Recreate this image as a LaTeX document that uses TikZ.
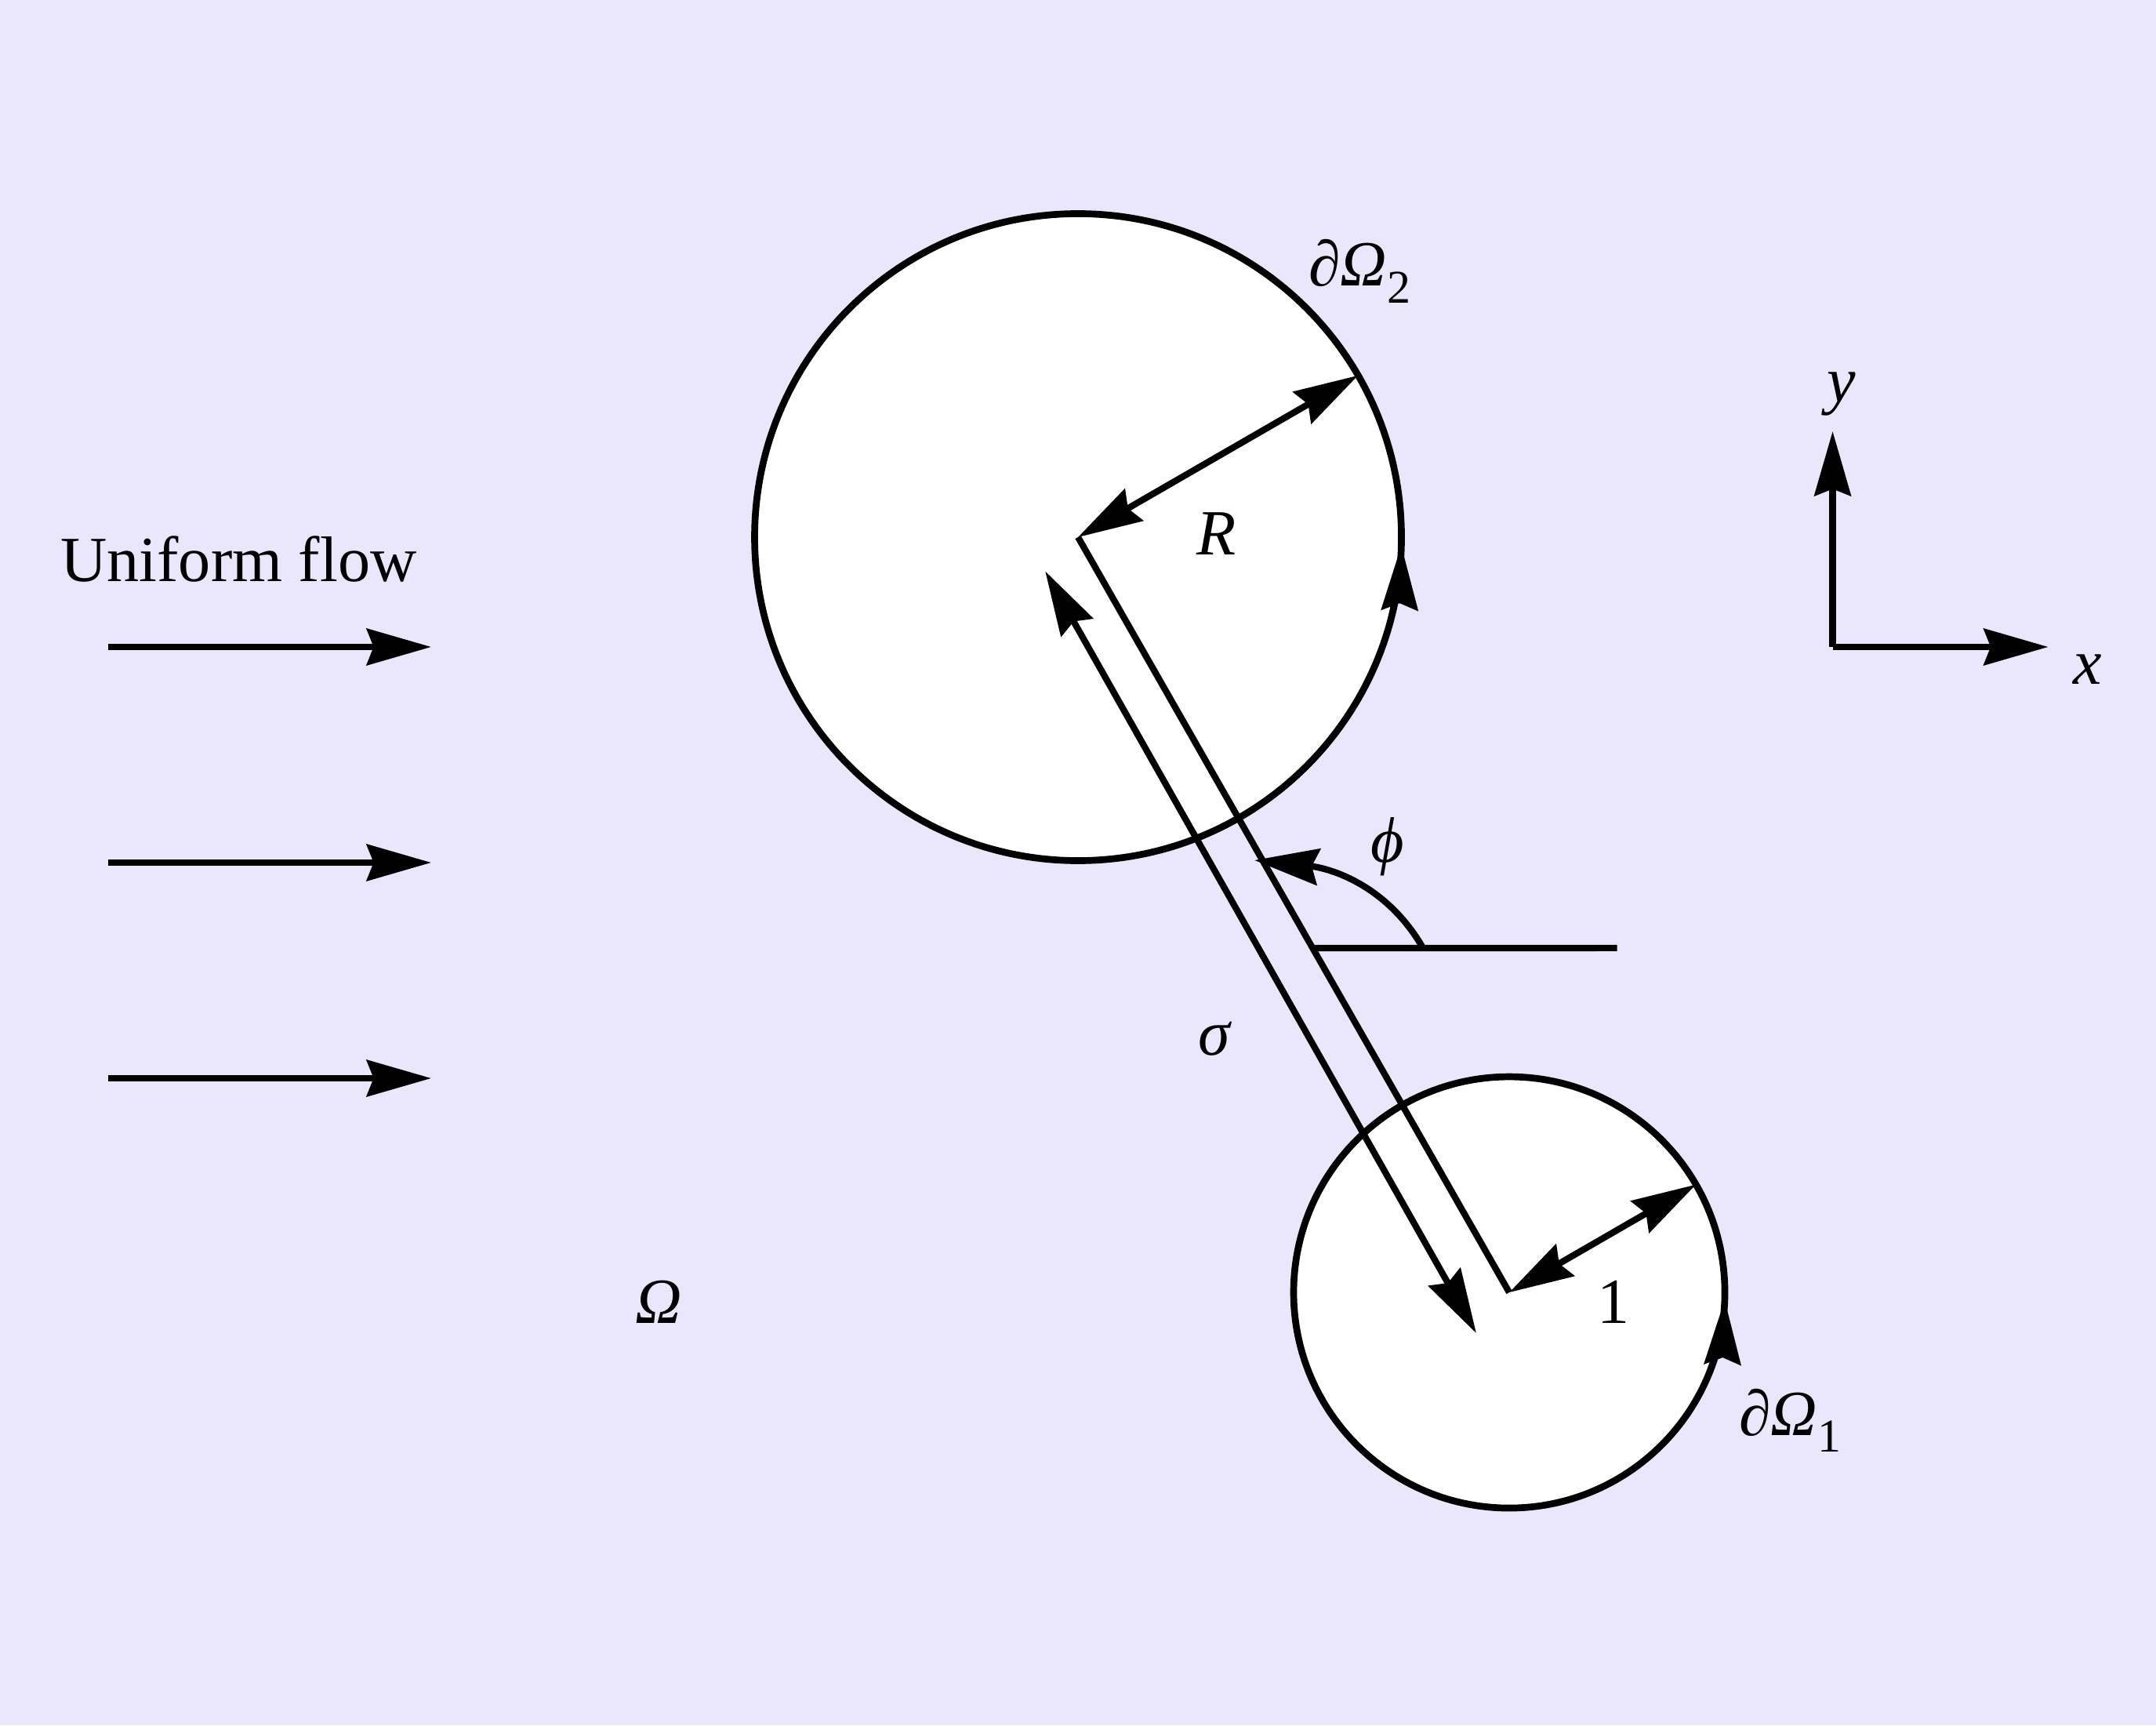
\documentclass[tikz,border=0pt]{standalone}
\usepackage{fontspec}
\setmainfont{Liberation Serif}
\usetikzlibrary{arrows.meta,calc}
\definecolor{bgcol}{RGB}{234,231,252}
\newcommand\mysub[1]{\raisebox{-0.26em}{\fontsize{6.2pt}{7pt}\selectfont #1}}
\begin{document}
\begin{tikzpicture}[x=1cm,y=1cm,
  every node/.style={font=\fontsize{8.5pt}{10pt}\selectfont, inner sep=0pt, outer sep=0pt},
  ln/.style={line width=0.85pt, draw=black},
  >={Stealth[length=8.5pt,width=4.8pt,inset=0.9pt]},
  disk/.style={circle, draw=black, line width=0.9pt, fill=white, inner sep=0pt, outer sep=0pt},
  lbl/.style={anchor=base},
  lblw/.style={anchor=base west},
]
\fill[bgcol] (0,0) rectangle (10,8);
\useasboundingbox (0,0) rectangle (10,8);

% bodies
\node[disk, minimum size=3cm] (big) at (5,5.509) {};
\node[disk, minimum size=2cm] (small) at (7,2.007) {};

% centre line and sigma
\draw[ln] (big.center) -- (small.center);
\coordinate (s2) at (4.848,5.351);
\coordinate (s1) at (6.847,1.818);
\draw[ln,<->] (s2) -- (s1);

% radii
\draw[ln,<->] (big.center) -- (big.30);
\draw[ln,<->] (small.center) -- (small.30);

% orientation arrows on the boundaries
\draw[ln,->] (big.-14) arc[start angle=-14,end angle=-1.5,radius=1.5];
\draw[ln,->] (small.-22) arc[start angle=-22,end angle=-2,radius=1];

% angle phi
\coordinate (P) at ($(big.center)!0.544!(small.center)$);
\coordinate (Pe) at (7.5,3.604);
\coordinate (Pa) at (6.6,3.604);
\coordinate (Pt) at (5.818,4.011);
\draw[ln] (P) -- (Pe);
\draw[ln,->] (Pa) to[out=120, in=-6] (Pt);

% uniform flow arrows
\foreach \yy in {5,4,3}{
  \coordinate (fa\yy) at (0.5,\yy);
  \coordinate (fb\yy) at (2.0,\yy);
  \draw[ln,->] (fa\yy) -- (fb\yy);
}

% axes
\coordinate (O) at (8.5,5);
\coordinate (Xe) at (9.5,5);
\coordinate (Ye) at (8.5,6);
\draw[ln,->] (O) -- (Xe);
\draw[ln,->] (O) -- (Ye);

% labels
\node[lbl] (uf) at (1.107,5.303) {Uniform flow};
\node[lblw] (dO2) at (6.069,6.673) {∂\textit{Ω}\mysub{2}};
\node[lblw] (dO1) at (8.066,1.345) {∂\textit{Ω}\mysub{1}};
\node[lbl] (lR) at (5.641,5.428) {\textit{R}};
\node[lbl] (lphi) at (6.436,4.0) {\textit{ϕ}};
\node[lbl] (lsig) at (5.635,3.109) {\textit{σ}};
\node[lbl] (lOm) at (3.055,1.865) {\textit{Ω}};
\node[lbl] (lone) at (7.485,1.862) {1};
\node[lbl] (ly) at (8.542,6.138) {\textit{y}};
\node[lbl] (lx) at (9.684,4.829) {\textit{x}};
\end{tikzpicture}
\end{document}
